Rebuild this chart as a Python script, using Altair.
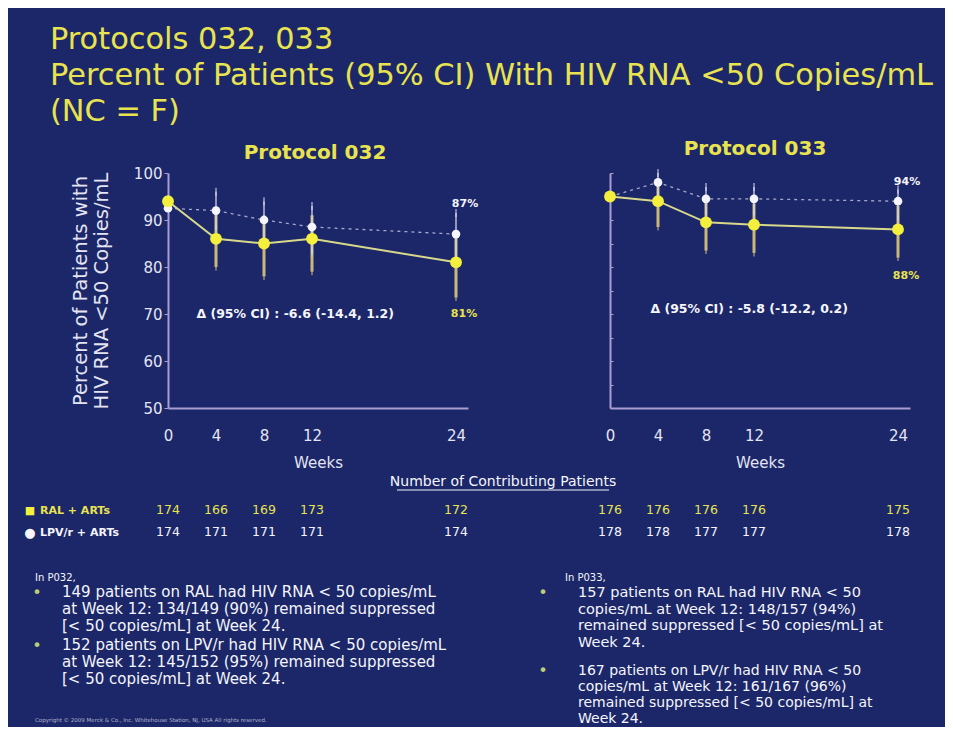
import altair as alt
import pandas as pd

# ---------------- data ----------------
weeks = [0, 4, 8, 12, 24]

# Protocol 032 (percent, 95% CI)
p032_ral = [94, 86, 85, 86, 81]
p032_ral_lo = [None, 80, 78, 79, 73.5]
p032_ral_hi = [None, 91.5, 91, 91, 87]
p032_lpv = [92.5, 92, 90, 88.5, 87]
p032_lpv_lo = [None, 88, 85, 83, 81]
p032_lpv_hi = [None, 96, 94, 93, 91.5]

# Protocol 033
p033_ral = [95, 94, 89.5, 89, 88]
p033_ral_lo = [None, 88.5, 83.5, 83, 82]
p033_ral_hi = [None, 97.5, 94, 93.5, 93]
p033_lpv = [95, 98, 94.5, 94.5, 94]
p033_lpv_lo = [None, 95, 91, 91, 90]
p033_lpv_hi = [None, 100, 97, 97, 96.5]

# number of contributing patients
n032_ral = [174, 166, 169, 173, 172]
n032_lpv = [174, 171, 171, 171, 174]
n033_ral = [176, 176, 176, 176, 175]
n033_lpv = [178, 178, 177, 177, 178]

y_ticks_major = [50, 60, 70, 80, 90, 100]
y_ticks_minor = [50, 55, 60, 65, 70, 75, 80, 85, 90, 95, 100]

title_lines = ["Protocols 032, 033",
               "Percent of Patients (95% CI) With HIV RNA <50 Copies/mL",
               "(NC = F)"]
y_title_lines = ["Percent of Patients with", "HIV RNA <50 Copies/mL"]
delta_032 = "\u0394 (95% CI) : -6.6 (-14.4, 1.2)"
delta_033 = "\u0394 (95% CI) : -5.8 (-12.2, 0.2)"
table_header = "Number of Contributing Patients"
row_labels = ["RAL + ARTs", "LPV/r + ARTs"]
notes_032_head = "In P032,"
notes_032_a = ["149 patients on RAL had HIV RNA < 50 copies/mL",
               "at Week 12: 134/149 (90%) remained suppressed",
               "[< 50 copies/mL] at Week 24."]
notes_032_b = ["152 patients on LPV/r had HIV RNA < 50 copies/mL",
               "at Week 12: 145/152 (95%) remained suppressed",
               "[< 50 copies/mL] at Week 24."]
notes_033_head = "In P033,"
notes_033_a = ["157 patients on RAL had HIV RNA < 50",
               "copies/mL at Week 12: 148/157 (94%)",
               "remained suppressed [< 50 copies/mL] at",
               "Week 24."]
notes_033_b = ["167 patients on LPV/r had HIV RNA < 50",
               "copies/mL at Week 12: 161/167 (96%)",
               "remained suppressed [< 50 copies/mL] at",
               "Week 24."]
copyright_text = ("Copyright \u00a9 2009 Merck & Co., Inc. Whitehouse Station, NJ, "
                  "USA All rights reserved.")

# ---------------- style / layout ----------------
TOTAL_W, TOTAL_H = 937, 719
VX0, VY0 = 160, 165           # view (plot rectangle) origin inside the canvas
VW, VH = 442, 235             # view size: from left axis of 032 to axis of 033
NAVY = "#1b2768"
YEL = "#e9e34f"
YEL_MARK = "#f3ef3c"
YEL_LINE = "#d8d88c"
YEL_BAR = "#c9b87a"
WHITE = "#f5f5fb"
LPV_BAR = "#d6d6ee"
AXIS = "#a99dd2"
LABEL = "#e4e4f2"
BULLET = "#b9cf74"
FONT = "DejaVu Sans"

Y_RANGE = [VH, 0]


def one():
    return alt.Data(values=[{"k": 1}])


def panel(ral, ral_lo, ral_hi, lpv, lpv_lo, lpv_hi, n_ral, n_lpv,
          x_range, title_text, title_xy, delta_text, delta_at,
          lpv_label_at, ral_label_at, first):
    df = pd.DataFrame({
        "week": weeks,
        "ral": ral, "ral_lo": ral_lo, "ral_hi": ral_hi,
        "lpv": lpv, "lpv_lo": lpv_lo, "lpv_hi": lpv_hi,
        "n_ral": n_ral, "n_lpv": n_lpv,
    })
    xs = alt.Scale(domain=[0, 25], range=x_range, nice=False, zero=False)
    ys = alt.Scale(domain=[50, 100], range=Y_RANGE, nice=False, zero=False)

    x_axis = alt.Axis(orient="bottom", values=weeks,
                      title="Weeks", titleFont=FONT, titleFontSize=15,
                      titleFontWeight="normal", titleColor=LABEL, titlePadding=12,
                      labelFont=FONT, labelFontSize=15, labelColor=LABEL,
                      labelPadding=20, ticks=False, tickSize=0, grid=False,
                      domainColor=AXIS, domainWidth=2, labelFlush=False)
    if first:
        y_axis = alt.Axis(orient="left", values=y_ticks_major,
                          title=y_title_lines, titleFont=FONT, titleFontSize=19.5,
                          titleFontWeight="normal", titleColor=LABEL,
                          titleLineHeight=21, titlePadding=22,
                          labelFont=FONT, labelFontSize=15, labelColor=LABEL,
                          labelPadding=2, tickSize=4, tickColor=AXIS, grid=False,
                          domainColor=AXIS, domainWidth=2)
    else:
        y_axis = alt.Axis(orient="right", values=y_ticks_minor,
                          title=None, labels=False, tickSize=3, tickColor=AXIS,
                          grid=False, domainColor=AXIS, domainWidth=2)

    base = alt.Chart(df)

    def X():
        return alt.X("week:Q", scale=xs, axis=None)

    def Y(field):
        return alt.Y(field, scale=ys, axis=None)

    ral_bars = base.mark_rule(color=YEL_BAR, strokeWidth=3).encode(
        x=alt.X("week:Q", scale=xs, axis=x_axis),
        y=alt.Y("ral_lo:Q", scale=ys, axis=y_axis), y2="ral_hi:Q")
    ral_caps = base.mark_tick(color=YEL_BAR, thickness=1.5, size=7).encode(
        x=X(), y=Y("ral_lo:Q"))
    lpv_bars = base.mark_rule(color=LPV_BAR, strokeWidth=1.3).encode(
        x=X(), y=Y("lpv_lo:Q"), y2="lpv_hi:Q")
    lpv_caps_hi = base.mark_tick(color=LPV_BAR, thickness=1.5, size=8).encode(
        x=X(), y=Y("lpv_hi:Q"))
    lpv_caps_lo = base.mark_tick(color=LPV_BAR, thickness=1.2, size=8).encode(
        x=X(), y=Y("lpv_lo:Q"))
    lpv_line = base.mark_line(color="#c9c9e6", strokeWidth=1.3,
                              strokeDash=[3, 4], opacity=0.8).encode(
        x=X(), y=Y("lpv:Q"))
    ral_line = base.mark_line(color=YEL_LINE, strokeWidth=2).encode(
        x=X(), y=Y("ral:Q"))
    lpv_pts = base.mark_circle(color=WHITE, size=75, opacity=1).encode(
        x=X(), y=Y("lpv:Q"))
    ral_pts = base.mark_circle(color=YEL_MARK, size=140, opacity=1).encode(
        x=X(), y=Y("ral:Q"))

    # percent labels at week 24
    last = pd.DataFrame({"week": [weeks[-1]], "ral": [ral[-1]], "lpv": [lpv[-1]]})
    lpv_lab = alt.Chart(last).transform_calculate(
        t="format(datum.lpv, '.0f') + '%'").mark_text(
        font=FONT, fontSize=11, fontWeight="bold", color=WHITE, dx=9).encode(
        x=X(), y=alt.Y(datum=lpv_label_at, scale=ys, axis=None), text="t:N")
    ral_lab = alt.Chart(last).transform_calculate(
        t="format(datum.ral, '.0f') + '%'").mark_text(
        font=FONT, fontSize=11, fontWeight="bold", color=YEL, dx=8).encode(
        x=X(), y=alt.Y(datum=ral_label_at, scale=ys, axis=None), text="t:N")

    delta = alt.Chart(one()).mark_text(font=FONT, fontSize=12.5, fontWeight="bold",
                                       color=WHITE).encode(
        x=alt.X(datum=delta_at[0], scale=xs, axis=None),
        y=alt.Y(datum=delta_at[1], scale=ys, axis=None),
        text=alt.value(delta_text))

    ptitle = alt.Chart(one()).mark_text(font=FONT, fontSize=20, fontWeight="bold",
                                        color=YEL).encode(
        x=alt.value(title_xy[0] - VX0), y=alt.value(title_xy[1] - VY0),
        text=alt.value(title_text))

    n_ral_txt = base.mark_text(font=FONT, fontSize=12.5, color=YEL).encode(
        x=X(), y=alt.value(502 - VY0), text="n_ral:Q")
    n_lpv_txt = base.mark_text(font=FONT, fontSize=12.5, color=WHITE).encode(
        x=X(), y=alt.value(524 - VY0), text="n_lpv:Q")

    return [ral_bars, ral_caps, lpv_bars, lpv_caps_hi, lpv_caps_lo,
            lpv_line, ral_line, lpv_pts, ral_pts, lpv_lab, ral_lab,
            delta, ptitle, n_ral_txt, n_lpv_txt]


p032 = panel(p032_ral, p032_ral_lo, p032_ral_hi, p032_lpv, p032_lpv_lo, p032_lpv_hi,
             n032_ral, n032_lpv, [0, 300], "Protocol 032", (307, 145),
             delta_032, (10.6, 70), 93.5, 70, True)
p033 = panel(p033_ral, p033_ral_lo, p033_ral_hi, p033_lpv, p033_lpv_lo, p033_lpv_hi,
             n033_ral, n033_lpv, [VW, VW + 300], "Protocol 033", (747, 141),
             delta_033, (11.6, 71), 98, 78, False)


def txt(text, x, y, size, color, weight="normal", align="left",
        baseline="alphabetic", line_height=None):
    kw = dict(font=FONT, fontSize=size, color=color, fontWeight=weight,
              align=align, baseline=baseline)
    if line_height is not None:
        kw["lineHeight"] = line_height
    return alt.Chart(one()).mark_text(**kw).encode(
        x=alt.value(x - VX0), y=alt.value(y - VY0), text=alt.value(text))


deco = [
    txt(title_lines, 42, 41, 30.4, YEL, line_height=36),
    txt(table_header, 495, 478, 14, WHITE, align="center"),
    alt.Chart(one()).mark_rule(color=WHITE, strokeWidth=1).encode(
        x=alt.value(389 - VX0), x2=alt.value(601 - VX0), y=alt.value(482 - VY0)),
    txt("\u25a0", 22, 506, 11, YEL_MARK, align="center"),
    txt("\u25cf", 22, 529, 13, WHITE, align="center"),
    txt(row_labels[0], 32, 506, 11, YEL, weight="bold"),
    txt(row_labels[1], 32, 528, 11, WHITE, weight="bold"),
    txt(notes_032_head, 27, 573, 10, WHITE),
    txt("\u2022", 29, 590, 16, BULLET, align="center"),
    txt(notes_032_a, 54, 589, 15, WHITE, line_height=17),
    txt("\u2022", 29, 643, 16, BULLET, align="center"),
    txt(notes_032_b, 54, 642, 15, WHITE, line_height=17),
    txt(notes_033_head, 557, 573, 10, WHITE),
    txt("\u2022", 535, 590, 16, BULLET, align="center"),
    txt(notes_033_a, 570, 589, 14.5, WHITE, line_height=16.5),
    txt("\u2022", 535, 668, 16, BULLET, align="center"),
    txt(notes_033_b, 570, 667, 14, WHITE, line_height=16),
    txt(copyright_text, 27, 714, 5.5, "#b4b4cc"),
]

chart = alt.layer(*p032, *p033, *deco).resolve_scale(
    x="independent", y="independent"
).properties(
    width=VW, height=VH,
    padding={"left": VX0, "top": VY0,
             "right": TOTAL_W - VX0 - VW, "bottom": TOTAL_H - VY0 - VH},
    autosize=alt.AutoSizeParams(type="none"),
    background=NAVY,
).configure_view(strokeWidth=0)

chart.save("out.html", embed_options={"renderer": "svg", "actions": False})
